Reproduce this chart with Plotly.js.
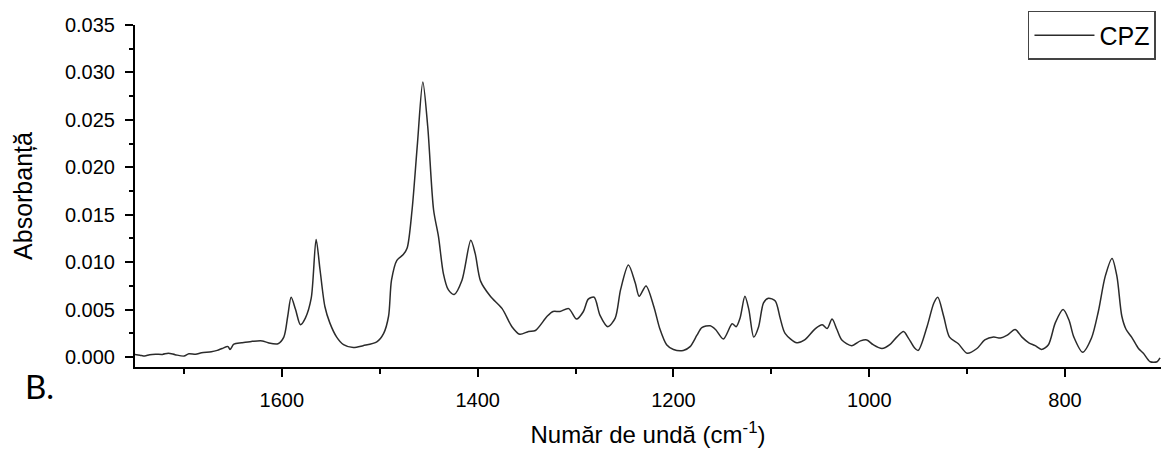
<!DOCTYPE html>
<html>
<head>
<meta charset="utf-8">
<script src="https://cdn.plot.ly/plotly-3.0.1.min.js"></script>
<style>html,body{margin:0;padding:0;background:#fff;}#chart{width:1161px;height:450px;}</style>
</head>
<body>
<div id="chart"></div>
<script>
const seriesName = "CPZ";
const wavenumber = [
  1750, 1745, 1740, 1735, 1729, 1722, 1716, 1709, 1700, 1695, 1688, 1682, 1672, 1666, 1661, 1655, 1653, 1649, 1641, 1631, 1620, 1614, 1604,
  1598, 1594, 1590.5, 1586, 1581, 1576, 1570, 1565, 1561, 1556, 1551, 1544, 1537, 1527, 1517, 1503, 1496, 1491,
  1488, 1482.5, 1476, 1472, 1467, 1461.5, 1456, 1451, 1445, 1440, 1435, 1430, 1424, 1416, 1407, 1402.5, 1397,
  1387, 1375, 1365, 1357, 1348, 1341, 1329, 1323, 1316, 1307, 1299, 1292, 1287, 1281, 1275, 1267, 1259.5, 1254,
  1246, 1239, 1235, 1228, 1220, 1214, 1207, 1200, 1190, 1183, 1176, 1171, 1162.5, 1157, 1149, 1140, 1136, 1132,
  1127, 1123, 1118, 1113, 1108, 1103, 1096, 1091, 1086, 1074, 1066, 1055, 1048, 1043, 1038, 1033, 1028, 1018,
  1009, 1002.5, 996, 987, 979, 972, 965, 960, 954, 950, 941, 934, 930, 924, 918, 909, 900, 890, 882, 873, 866,
  859, 851, 844, 837, 830.5, 824, 817, 810, 802, 796, 791, 782, 773, 766, 759, 752, 747, 742, 737.6, 732, 725,
  720, 713, 706, 703
];
const absorbance = [
  0.00028, 0.0002, 0.0001, 0.00025, 0.0003, 0.00028, 0.0004, 0.00025, 0.0001, 0.00035, 0.0003, 0.00045, 0.00055, 0.0007, 0.0009, 0.0011, 0.0008, 0.00135, 0.0015, 0.00165, 0.0017, 0.0015, 0.0014,
  0.0021, 0.0043, 0.0063, 0.0050, 0.0034, 0.0041, 0.0062, 0.0124, 0.0092, 0.0053, 0.0036, 0.0021, 0.0013, 0.0010, 0.0012, 0.0016, 0.0025, 0.0043,
  0.0081, 0.0102, 0.0108, 0.0115, 0.0155, 0.0225, 0.0290, 0.0243, 0.0155, 0.0127, 0.0088, 0.0071, 0.0066, 0.0081, 0.0123, 0.0109, 0.0080,
  0.0064, 0.0051, 0.0032, 0.0024, 0.0027, 0.0028, 0.0043, 0.0048, 0.0048, 0.0051, 0.0040, 0.0048, 0.0061, 0.0063, 0.0044, 0.0032, 0.0041, 0.0071,
  0.0097, 0.0078, 0.0064, 0.0075, 0.0053, 0.0030, 0.0013, 0.0008, 0.0007, 0.0011, 0.0023, 0.0031, 0.0033, 0.0029, 0.0019, 0.0035, 0.0032, 0.0041,
  0.0064, 0.0050, 0.0021, 0.0032, 0.0057, 0.0062, 0.0059, 0.0041, 0.0025, 0.0015, 0.0018, 0.0030, 0.0034, 0.0030, 0.0040, 0.0029, 0.0018, 0.0012,
  0.0017, 0.0018, 0.0013, 0.0009, 0.0013, 0.0021, 0.0027, 0.0020, 0.0010, 0.0007, 0.0032, 0.0057, 0.0063, 0.0043, 0.0021, 0.0014, 0.0004, 0.0009, 0.0018, 0.0021, 0.0020,
  0.0023, 0.0029, 0.0021, 0.0015, 0.0012, 0.0008, 0.0013, 0.0036, 0.0050, 0.0039, 0.0021, 0.0005, 0.0020, 0.0048, 0.0085, 0.0104, 0.0085, 0.0043, 0.0029, 0.0021, 0.0009,
  0.0004, -0.0005, -0.0005, -0.0001
];
const xTitle = "Număr de undă (cm<sup>-1</sup>)";
const yTitle = "Absorbanță";
const panelLabel = "B.";

const tickFont = {family: "Liberation Sans, Arial, sans-serif", size: 20, color: "#000"};

const trace = {
  x: wavenumber,
  y: absorbance,
  type: "scatter",
  mode: "lines",
  name: seriesName,
  line: {color: "#2b2b2b", width: 1.5, shape: "spline", smoothing: 0.8}
};

const layout = {
  width: 1161,
  height: 450,
  autosize: false,
  margin: {l: 135, r: 0, t: 25, b: 83, pad: 0},
  paper_bgcolor: "#fff",
  plot_bgcolor: "#fff",
  showlegend: true,
  legend: {
    x: 0.9951, xanchor: "right", xref: "paper",
    y: 1.041, yanchor: "top", yref: "paper",
    bgcolor: "#fff", bordercolor: "#444", borderwidth: 1.5,
    font: {family: "Liberation Sans, Arial, sans-serif", size: 25, color: "#000"},
    tracegroupgap: 0, itemwidth: 60
  },
  xaxis: {
    range: [1750, 702],
    showline: true, linecolor: "#000", linewidth: 2,
    showgrid: false, zeroline: false,
    ticks: "outside", ticklen: 8, tickwidth: 2, tickcolor: "#000",
    tick0: 0, dtick: 200,
    minor: {dtick: 100, ticks: "outside", ticklen: 5, tickwidth: 2, tickcolor: "#000", showgrid: false},
    tickfont: tickFont,
    ticklabelstandoff: 6,
    title: {text: xTitle, font: {family: "Liberation Sans, Arial, sans-serif", size: 24, color: "#000"}, standoff: 16}
  },
  yaxis: {
    range: [-0.00105, 0.035],
    showline: true, linecolor: "#000", linewidth: 2,
    showgrid: false, zeroline: false,
    ticks: "outside", ticklen: 8, tickwidth: 2, tickcolor: "#000",
    tick0: 0, dtick: 0.005, tickformat: ".3f",
    minor: {dtick: 0.0025, ticks: "outside", ticklen: 4, tickwidth: 2, tickcolor: "#000", showgrid: false},
    tickfont: tickFont,
    ticklabelstandoff: 6,
    title: {text: yTitle, font: {family: "Liberation Sans, Arial, sans-serif", size: 25, color: "#000"}, standoff: 25}
  },
  annotations: [{
    text: panelLabel,
    xref: "paper", yref: "paper",
    x: -0.109, xanchor: "left",
    y: -0.055, yanchor: "middle",
    showarrow: false,
    font: {family: "Lato, Open Sans, sans-serif", size: 33, color: "#000"}
  }]
};

Plotly.newPlot("chart", [trace], layout, {displayModeBar: false, staticPlot: true});
</script>
</body>
</html>
